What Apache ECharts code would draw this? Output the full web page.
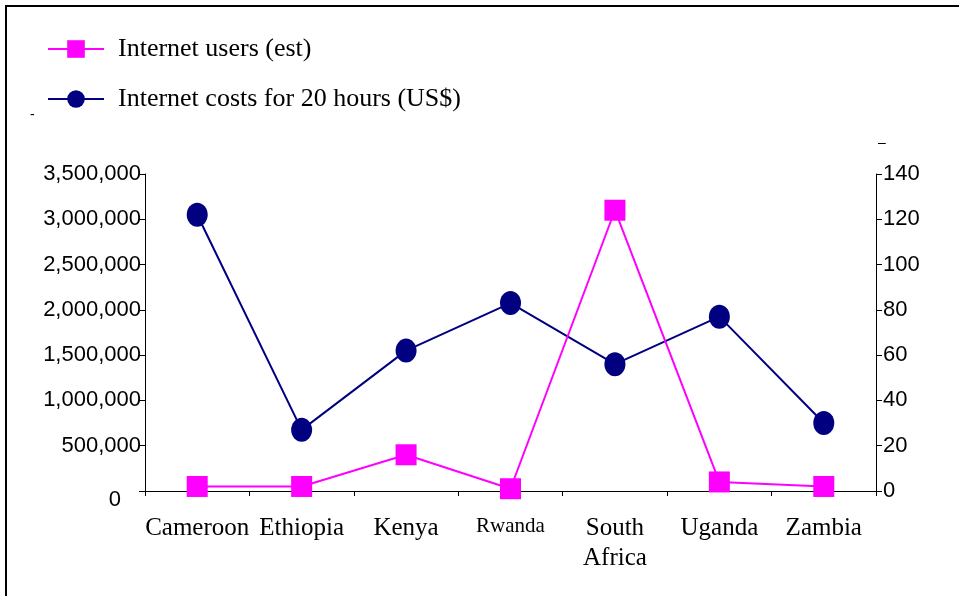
<!DOCTYPE html>
<html>
<head>
<meta charset="utf-8">
<script src="https://cdn.jsdelivr.net/npm/echarts@6/dist/echarts.min.js"></script>
<style>
  html, body { margin: 0; padding: 0; background: #fff; }
  #main { width: 959px; height: 596px; }
</style>
</head>
<body>
<div id="main"></div>
<script>
var countries = ['Cameroon', 'Ethiopia', 'Kenya', 'Rwanda', 'South\nAfrica', 'Uganda', 'Zambia'];
var internetUsers = [50000, 50000, 400000, 25000, 3100000, 100000, 50000];
var costs20h = [122, 27, 62, 83, 56, 77, 30];
var usersTicks = [0, 3500000, 500000];   // min, max, interval
var costTicks = [0, 140, 20];

var serifFont = 'Garamond, "Liberation Serif", serif';
var sansFont = '"Liberation Sans", Arial, sans-serif';

var myChart = echarts.init(document.getElementById('main'));

option = {
    animation: false,
    backgroundColor: '#fff',
    graphic: [
        { type: 'rect', shape: { x: 6, y: 6, width: 1000, height: 700 },
          style: { fill: 'none', stroke: '#000', lineWidth: 2 } },
        { type: 'text', left: 30, top: 108, style: { text: '-', fill: '#000', font: '14px ' + sansFont } },
        { type: 'text', left: 878, top: 136, style: { text: '\u2013', fill: '#000', font: '14px ' + sansFont } }
    ],
    legend: {
        orient: 'vertical',
        left: 42,
        top: 31,
        itemWidth: 56,
        itemHeight: 22,
        itemGap: 24,
        textStyle: {
            fontFamily: serifFont,
            fontSize: 26,
            color: '#000',
            padding: [0, 0, 0, 9]
        },
        data: ['Internet users (est)', 'Internet costs for 20 hours (US$)']
    },
    grid: { left: 145, right: 83, top: 174, bottom: 105 },
    xAxis: {
        type: 'category',
        data: countries,
        boundaryGap: true,
        axisLine: { lineStyle: { color: '#000', width: 1 } },
        axisTick: { show: true, length: 5, lineStyle: { color: '#000' } },
        axisLabel: {
            color: '#000',
            fontFamily: serifFont,
            fontSize: 25,
            lineHeight: 30,
            margin: 22,
            interval: 0,
            formatter: function (v) { return v === 'Rwanda' ? '{s|' + v + '}' : v; },
            rich: { s: { fontFamily: serifFont, fontSize: 21, color: '#000', padding: [0, 0, 4, 0] } }
        },
        splitLine: { show: false }
    },
    yAxis: [{
        type: 'value',
        min: usersTicks[0],
        max: usersTicks[1],
        interval: usersTicks[2],
        position: 'left',
        axisLine: { show: true, lineStyle: { color: '#000' } },
        axisTick: { show: true, length: 6, lineStyle: { color: '#000' } },
        axisLabel: {
            color: '#000',
            fontFamily: sansFont,
            fontSize: 22,
            margin: 4,
            formatter: function (v) {
                return v === 0 ? '{z|0}' : v.toLocaleString('en-US');
            },
            rich: { z: { fontFamily: sansFont, fontSize: 22, color: '#000', padding: [18, 20, 0, 0] } }
        },
        splitLine: { show: false }
    }, {
        type: 'value',
        min: costTicks[0],
        max: costTicks[1],
        interval: costTicks[2],
        position: 'right',
        axisLine: { show: true, lineStyle: { color: '#000' } },
        axisTick: { show: true, length: 6, lineStyle: { color: '#000' } },
        axisLabel: {
            color: '#000',
            fontFamily: sansFont,
            fontSize: 22,
            margin: 7
        },
        splitLine: { show: false }
    }],
    series: [{
        name: 'Internet users (est)',
        type: 'line',
        yAxisIndex: 0,
        data: internetUsers,
        symbol: 'rect',
        symbolSize: 21,
        lineStyle: { color: '#ff00ff', width: 2 },
        itemStyle: { color: '#ff00ff' },
        z: 3
    }, {
        name: 'Internet costs for 20 hours (US$)',
        type: 'line',
        yAxisIndex: 1,
        data: costs20h,
        symbol: 'circle',
        symbolSize: [21, 24],
        lineStyle: { color: '#000080', width: 2 },
        itemStyle: { color: '#000080' },
        z: 2
    }]
};

myChart.setOption(option);
</script>
</body>
</html>
